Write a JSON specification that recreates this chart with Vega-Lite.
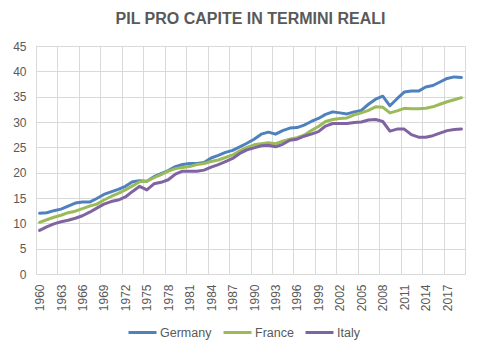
{
  "$schema": "https://vega.github.io/schema/vega-lite/v6.json",
  "width": 429,
  "height": 228,
  "autosize": "none",
  "padding": {"left": 36, "top": 46, "right": 15, "bottom": 79},
  "background": "white",
  "title": {
    "text": "PIL PRO CAPITE IN  TERMINI REALI",
    "font": "Liberation Sans",
    "fontSize": 16,
    "fontWeight": "bold",
    "color": "#595959",
    "anchor": "middle",
    "offset": 13
  },
  "config": {
    "view": {"stroke": "#d9d9d9", "strokeWidth": 1},
    "axis": {"labelFont": "Liberation Sans", "labelColor": "#595959", "gridColor": "#d9d9d9", "gridWidth": 1}
  },
  "data": {
    "values": [
      {"year":1960,"Germany":12.0,"France":10.2,"Italy":8.6},
      {"year":1961,"Germany":12.1,"France":10.7,"Italy":9.3},
      {"year":1962,"Germany":12.5,"France":11.2,"Italy":9.9},
      {"year":1963,"Germany":12.8,"France":11.6,"Italy":10.3},
      {"year":1964,"Germany":13.4,"France":12.1,"Italy":10.6},
      {"year":1965,"Germany":14.0,"France":12.4,"Italy":11.0},
      {"year":1966,"Germany":14.2,"France":12.9,"Italy":11.5},
      {"year":1967,"Germany":14.2,"France":13.4,"Italy":12.2},
      {"year":1968,"Germany":14.9,"France":13.8,"Italy":13.0},
      {"year":1969,"Germany":15.7,"France":14.6,"Italy":13.8},
      {"year":1970,"Germany":16.2,"France":15.3,"Italy":14.3},
      {"year":1971,"Germany":16.7,"France":15.9,"Italy":14.6},
      {"year":1972,"Germany":17.3,"France":16.6,"Italy":15.2},
      {"year":1973,"Germany":18.2,"France":17.4,"Italy":16.3},
      {"year":1974,"Germany":18.4,"France":18.2,"Italy":17.3},
      {"year":1975,"Germany":18.3,"France":18.3,"Italy":16.6},
      {"year":1976,"Germany":19.2,"France":19.0,"Italy":17.8},
      {"year":1977,"Germany":19.8,"France":19.6,"Italy":18.1},
      {"year":1978,"Germany":20.4,"France":20.3,"Italy":18.6},
      {"year":1979,"Germany":21.2,"France":20.8,"Italy":19.7},
      {"year":1980,"Germany":21.6,"France":21.0,"Italy":20.3},
      {"year":1981,"Germany":21.8,"France":21.2,"Italy":20.3},
      {"year":1982,"Germany":21.8,"France":21.6,"Italy":20.3},
      {"year":1983,"Germany":22.0,"France":21.8,"Italy":20.5},
      {"year":1984,"Germany":22.9,"France":22.2,"Italy":21.1},
      {"year":1985,"Germany":23.4,"France":22.5,"Italy":21.6},
      {"year":1986,"Germany":24.0,"France":23.0,"Italy":22.2},
      {"year":1987,"Germany":24.4,"France":23.5,"Italy":22.8},
      {"year":1988,"Germany":25.1,"France":24.3,"Italy":23.8},
      {"year":1989,"Germany":25.8,"France":25.0,"Italy":24.5},
      {"year":1990,"Germany":26.6,"France":25.5,"Italy":24.9},
      {"year":1991,"Germany":27.6,"France":25.7,"Italy":25.3},
      {"year":1992,"Germany":28.0,"France":25.9,"Italy":25.4},
      {"year":1993,"Germany":27.6,"France":25.7,"Italy":25.1},
      {"year":1994,"Germany":28.3,"France":26.2,"Italy":25.6},
      {"year":1995,"Germany":28.8,"France":26.6,"Italy":26.4},
      {"year":1996,"Germany":28.9,"France":26.9,"Italy":26.6},
      {"year":1997,"Germany":29.4,"France":27.4,"Italy":27.2},
      {"year":1998,"Germany":30.1,"France":28.3,"Italy":27.6},
      {"year":1999,"Germany":30.7,"France":29.1,"Italy":28.1},
      {"year":2000,"Germany":31.5,"France":30.1,"Italy":29.2},
      {"year":2001,"Germany":32.0,"France":30.5,"Italy":29.7},
      {"year":2002,"Germany":31.8,"France":30.7,"Italy":29.7},
      {"year":2003,"Germany":31.6,"France":30.8,"Italy":29.7},
      {"year":2004,"Germany":32.0,"France":31.4,"Italy":29.9},
      {"year":2005,"Germany":32.3,"France":31.8,"Italy":30.0},
      {"year":2006,"Germany":33.5,"France":32.3,"Italy":30.4},
      {"year":2007,"Germany":34.5,"France":33.0,"Italy":30.5},
      {"year":2008,"Germany":35.1,"France":32.9,"Italy":30.1},
      {"year":2009,"Germany":33.2,"France":31.8,"Italy":28.2},
      {"year":2010,"Germany":34.6,"France":32.2,"Italy":28.6},
      {"year":2011,"Germany":35.9,"France":32.7,"Italy":28.6},
      {"year":2012,"Germany":36.1,"France":32.6,"Italy":27.5},
      {"year":2013,"Germany":36.1,"France":32.6,"Italy":27.0},
      {"year":2014,"Germany":36.9,"France":32.7,"Italy":27.0},
      {"year":2015,"Germany":37.2,"France":33.0,"Italy":27.3},
      {"year":2016,"Germany":37.9,"France":33.5,"Italy":27.8},
      {"year":2017,"Germany":38.6,"France":34.0,"Italy":28.3},
      {"year":2018,"Germany":38.9,"France":34.4,"Italy":28.5},
      {"year":2019,"Germany":38.8,"France":34.8,"Italy":28.6}
    ]
  },
  "transform": [
    {"fold": ["Germany", "France", "Italy"], "as": ["country", "value"]}
  ],
  "mark": {"type": "line", "strokeWidth": 3, "strokeCap": "round", "strokeJoin": "round"},
  "encoding": {
    "x": {
      "field": "year",
      "type": "quantitative",
      "scale": {"domain": [1959.5, 2019.5], "nice": false, "zero": false},
      "axis": {
        "title": null,
        "values": [1960,1963,1966,1969,1972,1975,1978,1981,1984,1987,1990,1993,1996,1999,2002,2005,2008,2011,2014,2017],
        "format": "d",
        "labelAngle": -90,
        "labelFontSize": 12,
        "labelFontWeight": "normal",
        "labelPadding": 10,
        "ticks": false,
        "domain": false,
        "grid": true,
        "tickOffset": -3.575,
        "labelOffset": 3.575,
        "labelFlush": false,
        "labelOverlap": false
      }
    },
    "y": {
      "field": "value",
      "type": "quantitative",
      "scale": {"domain": [0, 45], "nice": false},
      "axis": {
        "title": null,
        "values": [0,5,10,15,20,25,30,35,40,45],
        "labelFontSize": 12,
        "labelPadding": 10,
        "ticks": false,
        "domain": false,
        "grid": true
      }
    },
    "color": {
      "field": "country",
      "type": "nominal",
      "sort": ["Germany", "France", "Italy"],
      "scale": {"domain": ["Germany", "France", "Italy"], "range": ["#4f81bd", "#9bbb59", "#8064a2"]},
      "legend": {
        "title": null,
        "orient": "none",
        "direction": "horizontal",
        "legendX": 91,
        "legendY": 271,
        "symbolType": "stroke",
        "symbolSize": 784,
        "symbolStrokeWidth": 3,
        "labelFont": "Liberation Sans",
        "labelFontSize": 12.5,
        "labelColor": "#595959",
        "labelOffset": 2,
        "columnPadding": 5
      }
    }
  }
}
